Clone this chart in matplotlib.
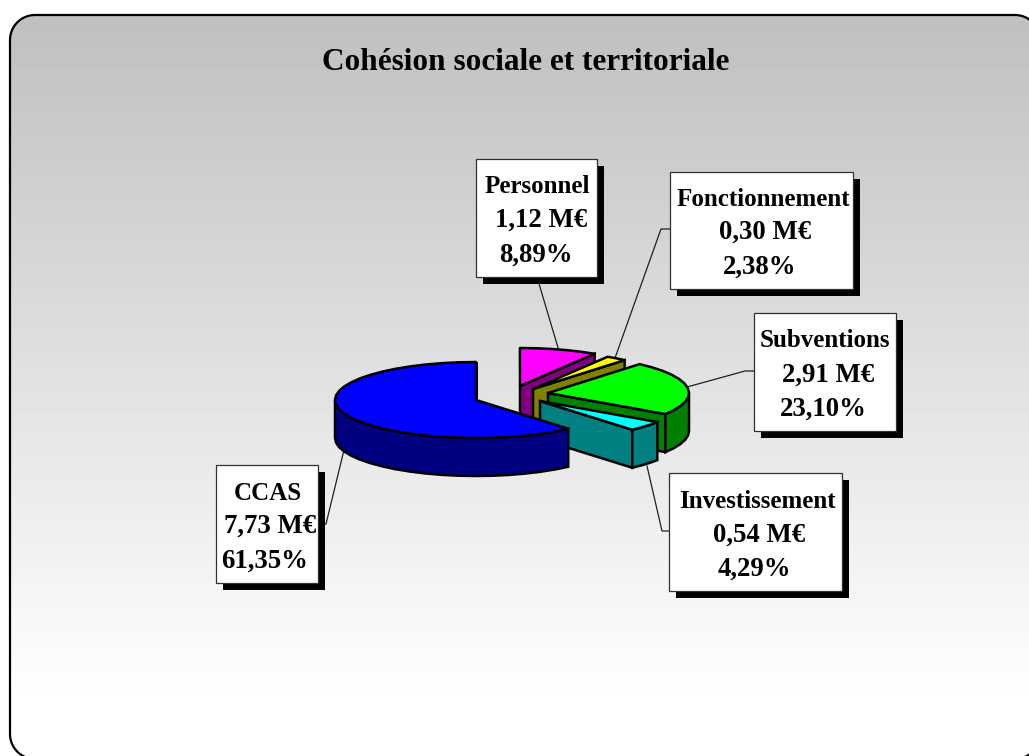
import numpy as np
import matplotlib
matplotlib.use("Agg")
import matplotlib.pyplot as plt
from matplotlib.patches import Polygon, Rectangle

title = "Cohésion sociale et territoriale"

# slices, in drawing order round the pie from 12 o'clock, counter-clockwise
categories = ["CCAS", "Investissement", "Subventions", "Fonctionnement", "Personnel"]
amounts = [7.73, 0.54, 2.91, 0.30, 1.12]
percents = [61.35, 4.29, 23.10, 2.38, 8.89]

top_colors = ["#0000ff", "#00ffff", "#00ff00", "#ffff00", "#ff00ff"]
wall_colors = ["#000080", "#008080", "#008000", "#808000", "#800080"]

# layout, all in image pixels
centers = [(476, 400), (540, 401), (548, 393), (533, 389), (520, 386)]
boxes = [(216, 465, 318, 583), (669, 473, 842, 591), (754, 313, 896, 431),
         (670, 172, 853, 289), (476, 159, 597, 277)]
text_x = [(268, 270, 265), (757, 759, 754), (825, 828, 823),
          (763, 765, 760), (537, 541, 536)]
text_y = [(500, 533, 568), (508, 542, 576), (347, 382, 416),
          (206, 239, 274), (193, 227, 262)]
leaders = [[(318, 524), (326, 524), (344, 450)],
           [(669, 531), (662, 531), (647, 466)],
           [(754, 371), (745, 371), (687, 387)],
           [(670, 229), (661, 229), (615, 358)],
           [(537, 277), (559, 351)]]
line_sizes = [18, 19.3, 19.3]
RX, RY, DEPTH = 141, 38, 38
FRAME = (10, 15, 1040, 759)
RADIUS = 25


def fr(value, digits=2):
    return f"{value:.{digits}f}".replace(".", ",")


def arc(center, a0, a1, dy=0):
    n = max(2, int(np.ceil((a1 - a0) / 7)) + 1)
    t = np.radians(np.linspace(a0, a1, n))
    return np.column_stack([center[0] + RX * np.cos(t), center[1] - RY * np.sin(t) + dy])


def frame_outline():
    x0, y0, x1, y1 = FRAME
    corners = [(x1 - RADIUS, y0 + RADIUS, 0), (x0 + RADIUS, y0 + RADIUS, 90),
               (x0 + RADIUS, y1 - RADIUS, 180), (x1 - RADIUS, y1 - RADIUS, 270)]
    pts = []
    for cx, cy, start in corners:
        t = np.radians(np.linspace(start, start + 90, 20))
        pts.append(np.column_stack([cx + RADIUS * np.cos(t), cy - RADIUS * np.sin(t)]))
    return np.vstack(pts)


def draw_slice(ax, center, a0, a1, top, wall, z):
    # radial wall on the clockwise side, only when it faces the viewer
    if not 60 < a0 % 360 < 240 or a0 % 360 == 90:
        rim = arc(center, a0, a0 + 0.01)[0]
        pts = [center, rim, rim + (0, DEPTH), (center[0], center[1] + DEPTH)]
        ax.add_patch(Polygon(pts, fc=wall, ec="black", lw=1.8, zorder=z))
    # outer wall on the front half of the ellipse
    for lo, hi in [(180, 360), (540, 720)]:
        w0, w1 = max(a0, lo), min(a1, hi)
        if w1 > w0:
            upper = arc(center, w0, w1)
            lower = arc(center, w0, w1, DEPTH)
            ax.add_patch(Polygon(np.vstack([upper, lower[::-1]]), fc=wall, ec="black",
                                 lw=1.8, zorder=z))
    pts = np.vstack([[center], arc(center, a0, a1)])
    ax.add_patch(Polygon(pts, fc=top, ec="black", lw=1.8, joinstyle="round", zorder=z))


fig = plt.figure(figsize=(10.29, 7.56), dpi=100)
ax = fig.add_axes([0, 0, 1, 1])

# rounded frame with the grey to white background
frame = Polygon(frame_outline(), closed=True, fc="none", ec="black", lw=1.6, zorder=2)
ax.add_patch(frame)
ramp = np.linspace(192, 255, 64).reshape(-1, 1) / 255
img = ax.imshow(ramp, extent=(0, 1040, 700, 15), cmap="gray", vmin=0, vmax=1,
                aspect="auto", zorder=0)
img.set_clip_path(frame)
ax.set_xlim(0, 1029)
ax.set_ylim(756, 0)
ax.axis("off")

ax.text(526, 70, title, ha="center", va="baseline", fontsize=22.5, fontweight="bold",
        family="Liberation Serif", zorder=10)

# leader lines sit under the pie
for line in leaders:
    xs, ys = zip(*line)
    ax.plot(xs, ys, color="#202020", lw=0.9, zorder=3)

angles = np.cumsum([0] + [p * 3.6 for p in percents]) + 90
# back slices first, CCAS goes on top of everything
order = [4, 3, 2, 1, 0]
for z, i in enumerate(order):
    draw_slice(ax, centers[i], angles[i], angles[i + 1], top_colors[i], wall_colors[i], 4 + z * 0.1)

for i, name in enumerate(categories):
    x0, y0, x1, y1 = boxes[i]
    ax.add_patch(Rectangle((x0 + 6.5, y0 + 6.5), x1 - x0, y1 - y0, fc="black", ec="none", zorder=6))
    ax.add_patch(Rectangle((x0, y0), x1 - x0, y1 - y0, fc="white", ec="#303030", lw=0.9, zorder=7))
    lines = [name, f"{fr(amounts[i])} M€", f"{fr(percents[i])}%"]
    for text, tx, ty, size in zip(lines, text_x[i], text_y[i], line_sizes):
        ax.text(tx, ty, text, ha="center", va="baseline", fontsize=size, fontweight="bold",
                family="Liberation Serif", color="black", zorder=8)

fig.savefig("out.png", dpi=100)
